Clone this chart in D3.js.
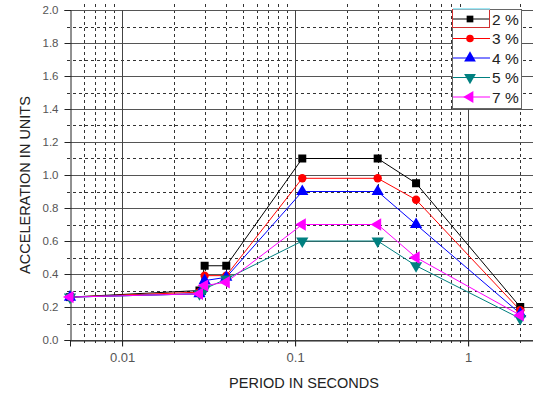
<!DOCTYPE html>
<html>
<head>
<meta charset="utf-8">
<script src="https://cdn.jsdelivr.net/npm/d3@7"></script>
<style>
  body { margin: 0; background: #fff; }
  text { font-family: "Liberation Sans", Arial, sans-serif; }
</style>
</head>
<body>
<div id="chart"></div>
<script>
// periods (s) where the spectra are sampled
const periods = [0.005, 0.028, 0.03, 0.04, 0.11, 0.3, 0.5, 2.0];

// spectral acceleration per damping ratio
const damp2 = [0.26, 0.30, 0.45, 0.45, 1.10, 1.10, 0.95, 0.20];
const damp3 = [0.26, 0.29, 0.39, 0.39, 0.98, 0.98, 0.85, 0.18];
const damp4 = [0.26, 0.28, 0.36, 0.38, 0.90, 0.90, 0.70, 0.16];
const damp5 = [0.26, 0.28, 0.31, 0.37, 0.60, 0.60, 0.45, 0.13];
const damp7 = [0.26, 0.28, 0.33, 0.35, 0.70, 0.70, 0.50, 0.15];

const seriesNames = ["2 %", "3 %", "4 %", "5 %", "7 %"];

const yMajor = [0, 0.2, 0.4, 0.6, 0.8, 1.0, 1.2, 1.4, 1.6, 1.8, 2.0];
const yMinor = [0.1, 0.3, 0.5, 0.7, 0.9, 1.1, 1.3, 1.5, 1.7, 1.9];
const xMajor = [0.01, 0.1, 1];

const series = [
  { name: seriesNames[0], values: damp2, color: "#000000", sym: d3.symbolSquare, rot: 0 },
  { name: seriesNames[1], values: damp3, color: "#ff0000", sym: d3.symbolCircle, rot: 0 },
  { name: seriesNames[2], values: damp4, color: "#0000ff", sym: d3.symbolTriangle, rot: 0 },
  { name: seriesNames[3], values: damp5, color: "#008080", sym: d3.symbolTriangle, rot: 180 },
  { name: seriesNames[4], values: damp7, color: "#ff00ff", sym: d3.symbolTriangle, rot: -90 }
];

const W = 533, H = 393;
const mLeft = 70, mTop = 10, mBottom = 340;

const svg = d3.select("#chart").append("svg")
  .attr("width", W)
  .attr("height", H);

const x = d3.scaleLog()
  .domain([0.005, 2.5])
  .range([mLeft, 537]);

const y = d3.scaleLinear()
  .domain([0, 2])
  .range([mBottom, mTop]);

const xMinor = x.ticks().filter(v => !xMajor.some(m => Math.abs(m - v) < 1e-9) && v > 0.005);

const grid = svg.append("g");

// dashed minor grid
grid.selectAll(".hmin").data(yMinor).join("line")
  .attr("x1", mLeft - 3).attr("x2", W + 10)
  .attr("y1", d => Math.round(y(d)) + 0.5).attr("y2", d => Math.round(y(d)) + 0.5)
  .attr("stroke", "#333").attr("stroke-width", 1).attr("stroke-dasharray", "3,3");
grid.selectAll(".vmin").data(xMinor).join("line")
  .attr("x1", d => Math.round(x(d)) + 0.5).attr("x2", d => Math.round(x(d)) + 0.5)
  .attr("y1", mTop - 6).attr("y2", mBottom + 3)
  .attr("stroke", "#333").attr("stroke-width", 1).attr("stroke-dasharray", "3,3");

// solid major grid
grid.selectAll(".hmaj").data(yMajor).join("line")
  .attr("x1", mLeft).attr("x2", W + 10)
  .attr("y1", d => Math.round(y(d)) + 0.5).attr("y2", d => Math.round(y(d)) + 0.5)
  .attr("stroke", "#555").attr("stroke-width", 1);
grid.selectAll(".vmaj").data(xMajor).join("line")
  .attr("x1", d => Math.round(x(d)) + 0.5).attr("x2", d => Math.round(x(d)) + 0.5)
  .attr("y1", mTop).attr("y2", mBottom + 6)
  .attr("stroke", "#444").attr("stroke-width", 1);

// y axis
const yAxis = svg.append("g")
  .attr("transform", `translate(${mLeft + 0.5},0)`)
  .call(d3.axisLeft(y).tickValues(yMajor).tickSize(6).tickPadding(6).tickFormat(d3.format(".1f")));
yAxis.select(".domain").attr("stroke", "#222");
yAxis.selectAll(".tick line").attr("stroke", "#222");
yAxis.selectAll("text")
  .attr("font-size", 11.5).attr("fill", "#555")
  .attr("font-family", "Liberation Sans, Arial, sans-serif");

// x axis
const xAxis = svg.append("g")
  .attr("transform", `translate(0,${mBottom + 0.5})`)
  .call(d3.axisBottom(x).tickValues(xMajor).tickSize(6).tickFormat(d => d3.format("~g")(d)));
xAxis.select(".domain").attr("stroke", "#222");
xAxis.selectAll(".tick line").attr("stroke", "#222");
xAxis.selectAll("text")
  .attr("font-size", 13).attr("fill", "#555").attr("dy", "0.95em")
  .attr("font-family", "Liberation Sans, Arial, sans-serif");

// axis titles
svg.append("text")
  .attr("transform", `translate(25,185) rotate(-90)`)
  .attr("text-anchor", "middle")
  .attr("dy", "0.35em")
  .attr("font-size", 14.5).attr("fill", "#222")
  .text("ACCELERATION IN UNITS");

svg.append("text")
  .attr("x", 304).attr("y", 388)
  .attr("text-anchor", "middle")
  .attr("font-size", 14.5).attr("fill", "#222")
  .text("PERIOD IN SECONDS");

// lines and markers
const line = d3.line()
  .x((d, i) => x(periods[i]))
  .y(d => y(d));

series.forEach(s => {
  svg.append("path")
    .datum(s.values)
    .attr("d", line)
    .attr("fill", "none")
    .attr("stroke", s.color)
    .attr("stroke-width", 1);
});

series.forEach(s => {
  const size = s.sym === d3.symbolTriangle ? 65 : (s.sym === d3.symbolCircle ? 55 : 64);
  svg.append("g").selectAll("path")
    .data(s.values)
    .join("path")
    .attr("d", d3.symbol().type(s.sym).size(size))
    .attr("transform", (d, i) => `translate(${x(periods[i])},${y(d)}) rotate(${s.rot})`)
    .attr("fill", s.color);
});

// legend
const lg = svg.append("g");
lg.append("rect")
  .attr("x", 452.5).attr("y", 9.5).attr("width", 69).attr("height", 99)
  .attr("fill", "#fff").attr("stroke", "#666");

series.forEach((s, i) => {
  const cy = 19 + i * 19.5;
  lg.append("line")
    .attr("x1", 453).attr("x2", 490).attr("y1", cy).attr("y2", cy)
    .attr("stroke", s.color).attr("stroke-width", 1);
  lg.append("path")
    .attr("d", d3.symbol().type(s.sym).size(s.sym === d3.symbolTriangle ? 60 : 45))
    .attr("transform", `translate(470,${cy}) rotate(${s.rot})`)
    .attr("fill", s.color);
  lg.append("text")
    .attr("x", 492).attr("y", cy + 5.5)
    .attr("font-size", 15.5).attr("fill", "#222")
    .text(s.name);
});

// selection highlight around first legend entry
lg.append("rect")
  .attr("x", 452.5).attr("y", 9.5).attr("width", 37).attr("height", 18)
  .attr("fill", "none").attr("stroke", "#d03030");
lg.append("line")
  .attr("x1", 453).attr("x2", 490).attr("y1", 9).attr("y2", 9)
  .attr("stroke", "#7fe0f0").attr("stroke-width", 1.5);
</script>
</body>
</html>
